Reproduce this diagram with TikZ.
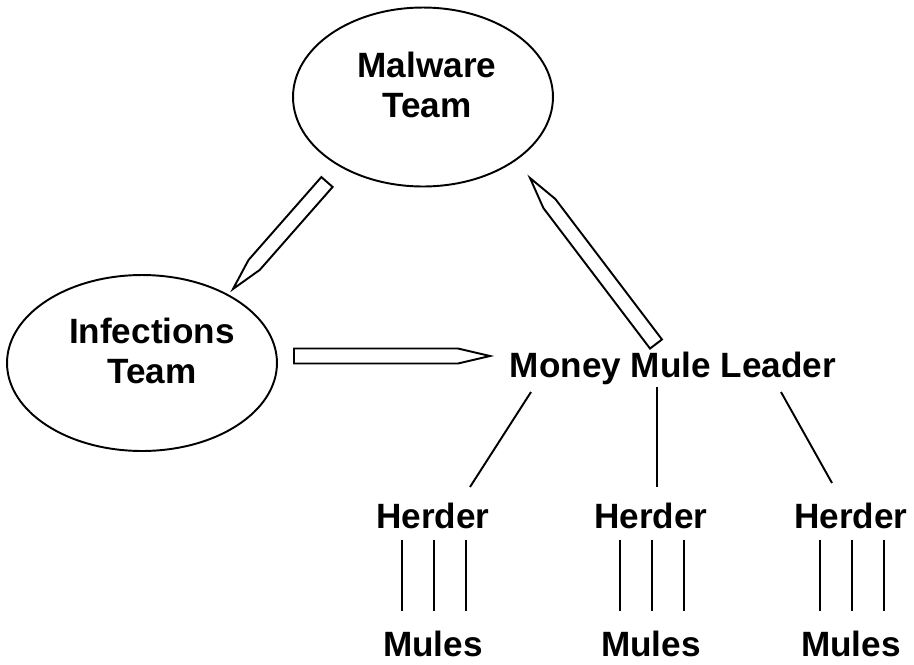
\documentclass[tikz,border=0pt]{standalone}
\usepackage{fontspec}
\setmainfont{Liberation Sans}
\usetikzlibrary{shapes.geometric,calc}

\tikzset{
  team/.style={draw, ellipse, line width=1.1pt, inner sep=0pt},
  lbl/.style={font=\fontsize{20}{23}\selectfont\bfseries, align=center, inner sep=0pt},
  link/.style={line width=1.1pt},
  pencilbody/.style={draw, line width=1.1pt, fill=white, line join=miter}
}
% hollow pencil-shaped arrow: #1 tail, #2 tip
\newcommand{\pencilarrow}[2]{%
  \draw[pencilbody] ($(#1)!0.15cm!90:(#2)$)
    -- ($($(#2)!0.64cm!(#1)$)!0.15cm!90:(#2)$) -- (#2)
    -- ($($(#2)!0.64cm!(#1)$)!0.15cm!-90:(#2)$)
    -- ($(#1)!0.15cm!-90:(#2)$) -- cycle;}

\begin{document}
\begin{tikzpicture}[x=0.02cm, y=-0.02cm]
	\useasboundingbox (0,0) rectangle (914,664);
	\node[team, minimum width=5.2cm, minimum height=3.58cm] (malware) at (423,97) {};
	\node[lbl] (malwaretxt) at (427,85) {Malware\\Team};
	\node[team, minimum width=5.4cm, minimum height=3.52cm] (infections) at (142,363) {};
	\node[lbl] (infectionstxt) at (152,351) {Infections\\Team};
	\node[lbl, anchor=base] (leader) at (673,377) {Money Mule Leader};

	\coordinate (p1tail) at (327,182); \coordinate (p1tip) at (233,289);
	\coordinate (p2tail) at (656,344); \coordinate (p2tip) at (530,178);
	\coordinate (p3tail) at (294,356); \coordinate (p3tip) at (490,356);
	\pencilarrow{p1tail}{p1tip}
	\pencilarrow{p2tail}{p2tip}
	\pencilarrow{p3tail}{p3tip}

	\foreach \n/\x in {1/433, 2/651, 3/851} {
		\node[lbl, anchor=base] (herder\n) at (\x,528) {Herder};
		\node[lbl, anchor=base] (mules\n) at (\x,656) {Mules};
		\foreach \dx in {-31,1,33}
			\draw[link] ($(herder\n.south)+(\dx,11)$) -- ($(mules\n.north)+(\dx,-19)$);
	}

	\coordinate (l1) at (531,392); \coordinate (l2) at (657,387); \coordinate (l3) at (781,392);
	\coordinate (h1) at (470,487); \coordinate (h2) at (657,487); \coordinate (h3) at (832,483);
	\draw[link] (l1) -- (h1);
	\draw[link] (l2) -- (h2);
	\draw[link] (l3) -- (h3);
\end{tikzpicture}
\end{document}
